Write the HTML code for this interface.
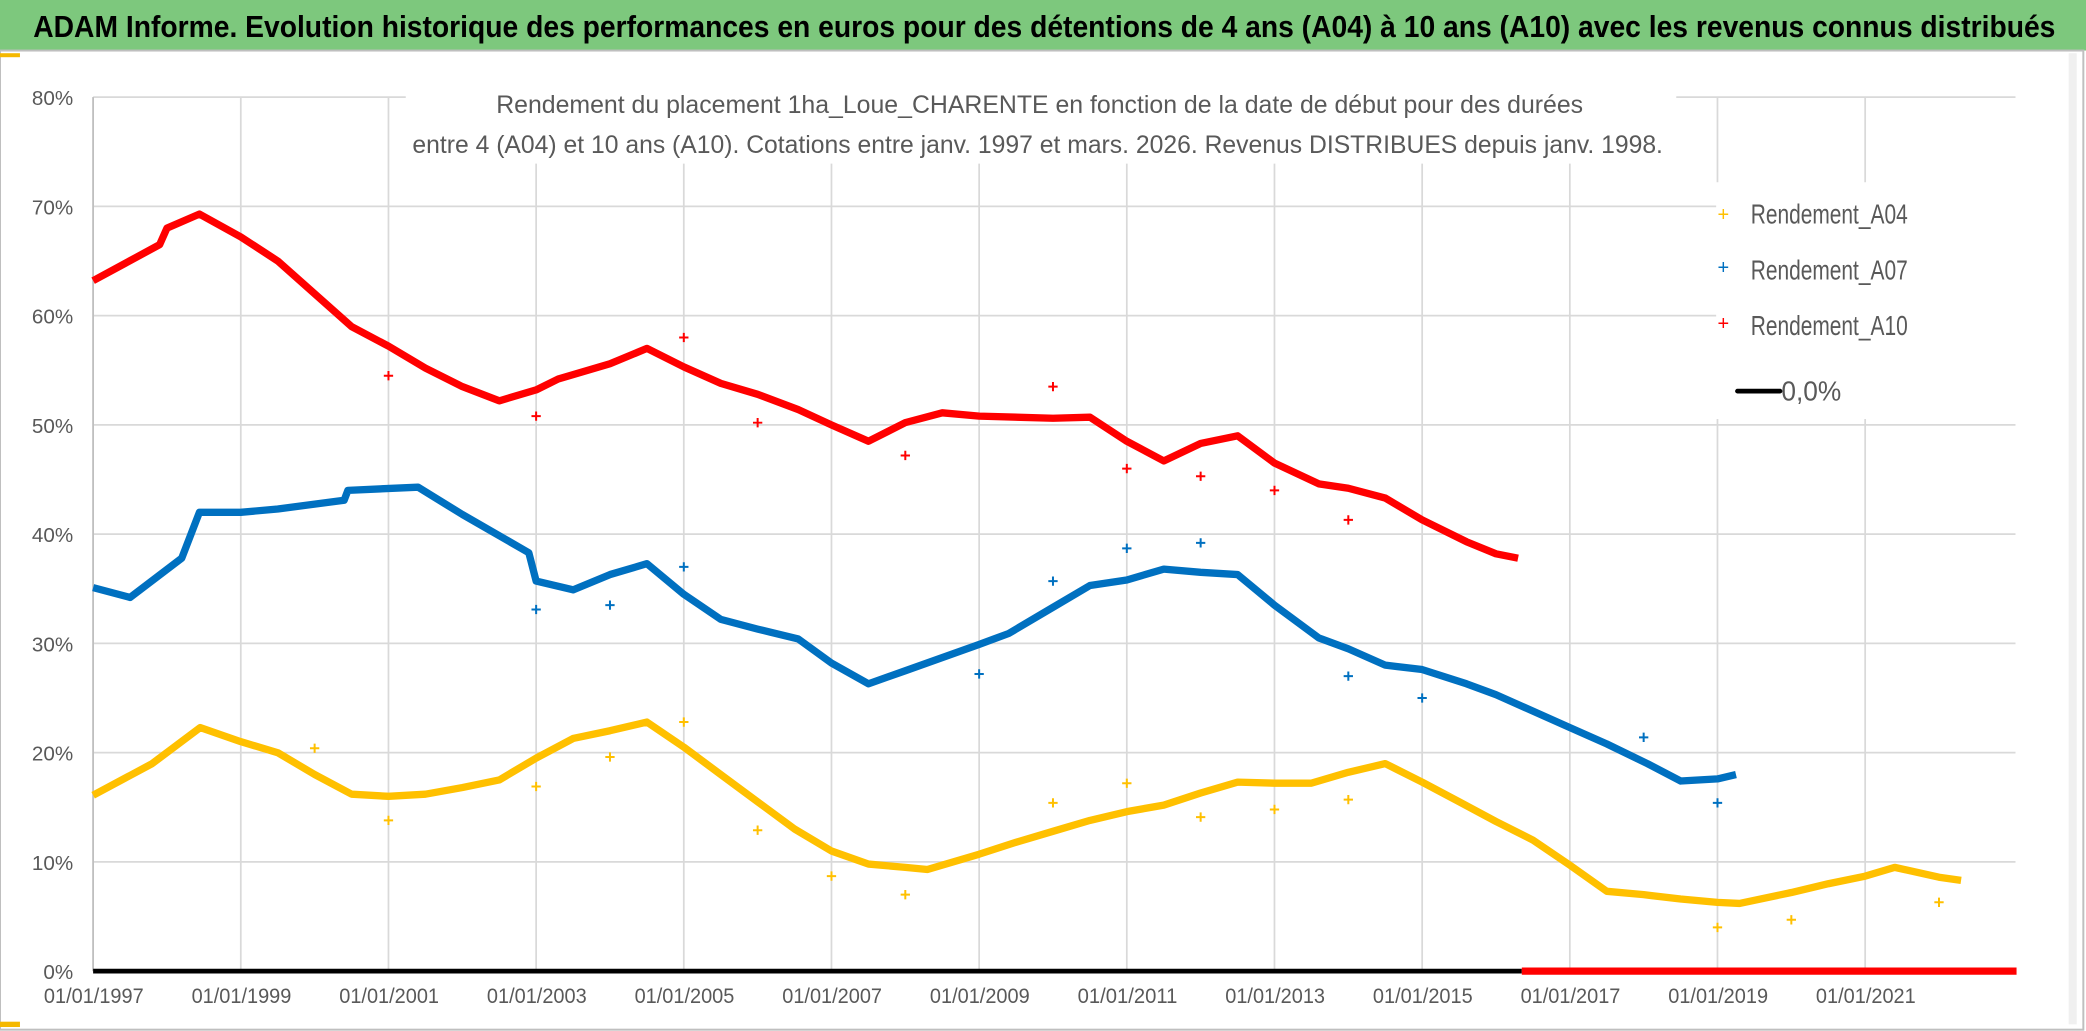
<!DOCTYPE html>
<html><head><meta charset="utf-8"><style>
html,body{margin:0;padding:0;background:#fff;}
svg{display:block;font-family:"Liberation Sans",sans-serif;}
</style></head><body>
<svg id="chart" width="2086" height="1031" viewBox="0 0 1568 775" preserveAspectRatio="none" xmlns="http://www.w3.org/2000/svg">
<rect x="0" y="0" width="1568" height="775" fill="#fff"/>
<rect x="0" y="0" width="1568" height="38" fill="#7dc87d"/>
<text x="25" y="28" font-size="23" font-weight="bold" fill="#000" textLength="1520" lengthAdjust="spacingAndGlyphs">ADAM Informe. Evolution historique des performances en euros pour des détentions de 4 ans (A04) à 10 ans (A10) avec les revenus connus distribués</text>
<rect x="0" y="38" width="1566" height="736" fill="none" stroke="#bfbfbf" stroke-width="1.5"/>
<rect x="0" y="40" width="15" height="3" fill="#f5b800"/>
<rect x="0" y="768" width="15" height="4" fill="#f5b800"/>
<rect x="1555" y="40" width="6" height="730" fill="#f0f0f0"/>
<g id="grid"></g>
<rect x="305" y="55" width="955" height="68" fill="#fff"/>
<text x="373" y="85" font-size="19" fill="#595959" textLength="817" lengthAdjust="spacingAndGlyphs">Rendement du placement 1ha_Loue_CHARENTE en fonction de la date de début pour des durées</text>
<text x="310" y="115" font-size="19" fill="#595959" textLength="940" lengthAdjust="spacingAndGlyphs">entre 4 (A04) et 10 ans (A10). Cotations entre janv. 1997 et mars. 2026. Revenus DISTRIBUES depuis janv. 1998.</text>
<g id="axes"></g>
<g id="series"></g>
<g>
<rect x="1290" y="137" width="243" height="178" fill="#fff"/>
<g><text x="1291" y="166" font-size="15" fill="#ffc000">+</text><text x="1316" y="168" font-size="21" fill="#595959" textLength="118" lengthAdjust="spacingAndGlyphs">Rendement_A04</text></g>
<g><text x="1291" y="206" font-size="15" fill="#0070c0">+</text><text x="1316" y="210" font-size="21" fill="#595959" textLength="118" lengthAdjust="spacingAndGlyphs">Rendement_A07</text></g>
<g><text x="1291" y="248" font-size="15" fill="#ff0000">+</text><text x="1316" y="252" font-size="21" fill="#595959" textLength="118" lengthAdjust="spacingAndGlyphs">Rendement_A10</text></g>
<g><line x1="1306" y1="294" x2="1338" y2="294" stroke="#000" stroke-width="3.5" stroke-linecap="round"/><text x="1339" y="301" font-size="21" fill="#595959" textLength="45" lengthAdjust="spacingAndGlyphs">0,0%</text></g>
</g>
</svg>
<script>
const a04Dates=[1997,1997.8,1998.45,1999,1999.5,2000,2000.5,2001,2001.5,2002,2002.5,2003,2003.5,2004,2004.5,2005,2005.5,2006,2006.5,2007,2007.5,2008,2008.3,2009,2009.5,2010,2010.5,2011,2011.5,2012,2012.5,2013,2013.5,2014,2014.5,2015,2015.5,2016,2016.5,2017,2017.5,2018,2018.5,2019,2019.3,2020,2020.5,2021,2021.4,2022,2022.3];
const a04Values=[16.1,19,22.3,21,20,18,16.2,16,16.2,16.8,17.5,19.5,21.3,22,22.8,20.5,18,15.5,13,11,9.8,9.5,9.3,10.7,11.8,12.8,13.8,14.6,15.2,16.3,17.3,17.2,17.2,18.2,19,17.3,15.5,13.7,12,9.7,7.3,7,6.6,6.3,6.2,7.2,8,8.7,9.5,8.6,8.3];
const a04OutDates=[2000,2001,2003,2004,2005,2006,2007,2008,2010,2011,2012,2013,2014,2019,2020,2022];
const a04OutValues=[20.4,13.8,16.9,19.6,22.8,12.9,8.7,7.0,15.4,17.2,14.1,14.8,15.7,4.0,4.7,6.3];
const a07Dates=[1997,1997.5,1998.2,1998.44,1999,1999.5,2000.4,2000.45,2001.4,2002,2002.9,2003,2003.5,2004,2004.5,2005,2005.5,2006,2006.55,2007,2007.5,2008,2009,2009.4,2010,2010.5,2011,2011.5,2012,2012.5,2013,2013.6,2014,2014.5,2015,2015.6,2016,2017,2017.5,2018.05,2018.5,2019,2019.25];
const a07Values=[35.1,34.2,37.8,42,42,42.3,43.1,44,44.3,41.8,38.3,35.7,34.9,36.3,37.3,34.5,32.2,31.3,30.4,28.2,26.3,27.5,29.9,30.9,33.3,35.3,35.8,36.8,36.5,36.3,33.5,30.5,29.5,28,27.6,26.3,25.3,22.3,20.8,19,17.4,17.6,18];
const a07OutDates=[2003,2004,2005,2009,2010,2011,2012,2014,2015,2018,2019];
const a07OutValues=[33.1,33.5,37,27.2,35.7,38.7,39.2,27,25,21.4,15.4];
const a10Dates=[1997,1997.9,1998,1998.44,1999,1999.5,2000,2000.5,2001,2001.5,2002,2002.5,2003,2003.3,2004,2004.5,2005,2005.5,2006,2006.55,2007,2007.5,2008,2008.5,2009,2010,2010.5,2011,2011.5,2012,2012.5,2013,2013.6,2014,2014.5,2015,2015.6,2016,2016.3];
const a10Values=[63.2,66.5,68,69.3,67.2,65,62,59,57.2,55.2,53.5,52.2,53.2,54.2,55.6,57,55.3,53.8,52.8,51.4,50,48.5,50.2,51.1,50.8,50.6,50.7,48.5,46.7,48.3,49,46.5,44.6,44.2,43.3,41.3,39.3,38.2,37.8];
const a10ZeroDates=[2016.35,2023.05];
const a10ZeroValues=[0,0];
const a10OutDates=[2001,2003,2005,2006,2008,2010,2011,2012,2013,2014];
const a10OutValues=[54.5,50.8,58,50.2,47.2,53.5,46,45.3,44,41.3];
const zeroLineDates=[1997,2016.35];
const yTicks=[0,10,20,30,40,50,60,70,80];
const xTickYears=[1997,1999,2001,2003,2005,2007,2009,2011,2013,2015,2017,2019,2021];
const xTickLabels=["01/01/1997","01/01/1999","01/01/2001","01/01/2003","01/01/2005","01/01/2007","01/01/2009","01/01/2011","01/01/2013","01/01/2015","01/01/2017","01/01/2019","01/01/2021"];

const NS="http://www.w3.org/2000/svg";
const X0=70,PXY=55.5,Y0=730,PXV=8.2125,XEND=1515;
function xs(d){return X0+(d-1997)*PXY;}
function ys(v){return Y0-v*PXV;}
function mk(tag,attrs,parent){const e=document.createElementNS(NS,tag);for(const k in attrs)e.setAttribute(k,attrs[k]);parent.appendChild(e);return e;}
const grid=document.getElementById('grid'),axes=document.getElementById('axes'),series=document.getElementById('series');
yTicks.forEach(v=>{
  if(v>0){const l=mk('line',{x1:X0,x2:XEND,y1:ys(v),y2:ys(v),stroke:'#d9d9d9','stroke-width':1.3},grid);
  
  }
  const t=mk('text',{x:55,y:ys(v)+6,'font-size':15.5,fill:'#595959','text-anchor':'end'},axes);
  
  
  t.textContent=v+'%';
});
xTickYears.forEach((d,i)=>{
  const l=mk('line',{x1:xs(d),x2:xs(d),y1:ys(80),y2:Y0,stroke:'#d9d9d9','stroke-width':1.3},grid);
  
  
  const t=mk('text',{x:xs(d)-37,y:754,'font-size':16,fill:'#595959',textLength:75,lengthAdjust:'spacingAndGlyphs'},axes);
  
  
  t.textContent=xTickLabels[i];
});
const yaxis=mk('line',{x1:X0,x2:X0,y1:ys(80),y2:Y0,stroke:'#bfbfbf','stroke-width':1.3},grid);


function line(dates,vals,color,w,name){
  const pts=dates.map((d,i)=>xs(d).toFixed(1)+','+ys(vals[i]).toFixed(1)).join(' ');
  const p=mk('polyline',{points:pts,fill:'none',stroke:color,'stroke-width':w,'stroke-linejoin':'round'},series);
  
  
}
function crosses(dates,vals,color,name){
  dates.forEach((d,i)=>{
    const x=xs(d),y=ys(vals[i]);
    const p=mk('path',{d:`M${x-3.5},${y}H${x+3.5}M${x},${y-3.5}V${y+3.5}`,stroke:color,'stroke-width':1.5},series);
    
    
  });
}
line(zeroLineDates,[0,0],'#000',3.5,'zero-line');
line(a04Dates,a04Values,'#ffc000',5.5,'series-a04');
line(a07Dates,a07Values,'#0070c0',5.5,'series-a07');
line(a10Dates,a10Values,'#ff0000',5.5,'series-a10');
line(a10ZeroDates,a10ZeroValues,'#ff0000',5.5,'series-a10-zero');
crosses(a04OutDates,a04OutValues,'#ffc000','a04-point');
crosses(a07OutDates,a07OutValues,'#0070c0','a07-point');
crosses(a10OutDates,a10OutValues,'#ff0000','a10-point');
</script>
</body></html>
